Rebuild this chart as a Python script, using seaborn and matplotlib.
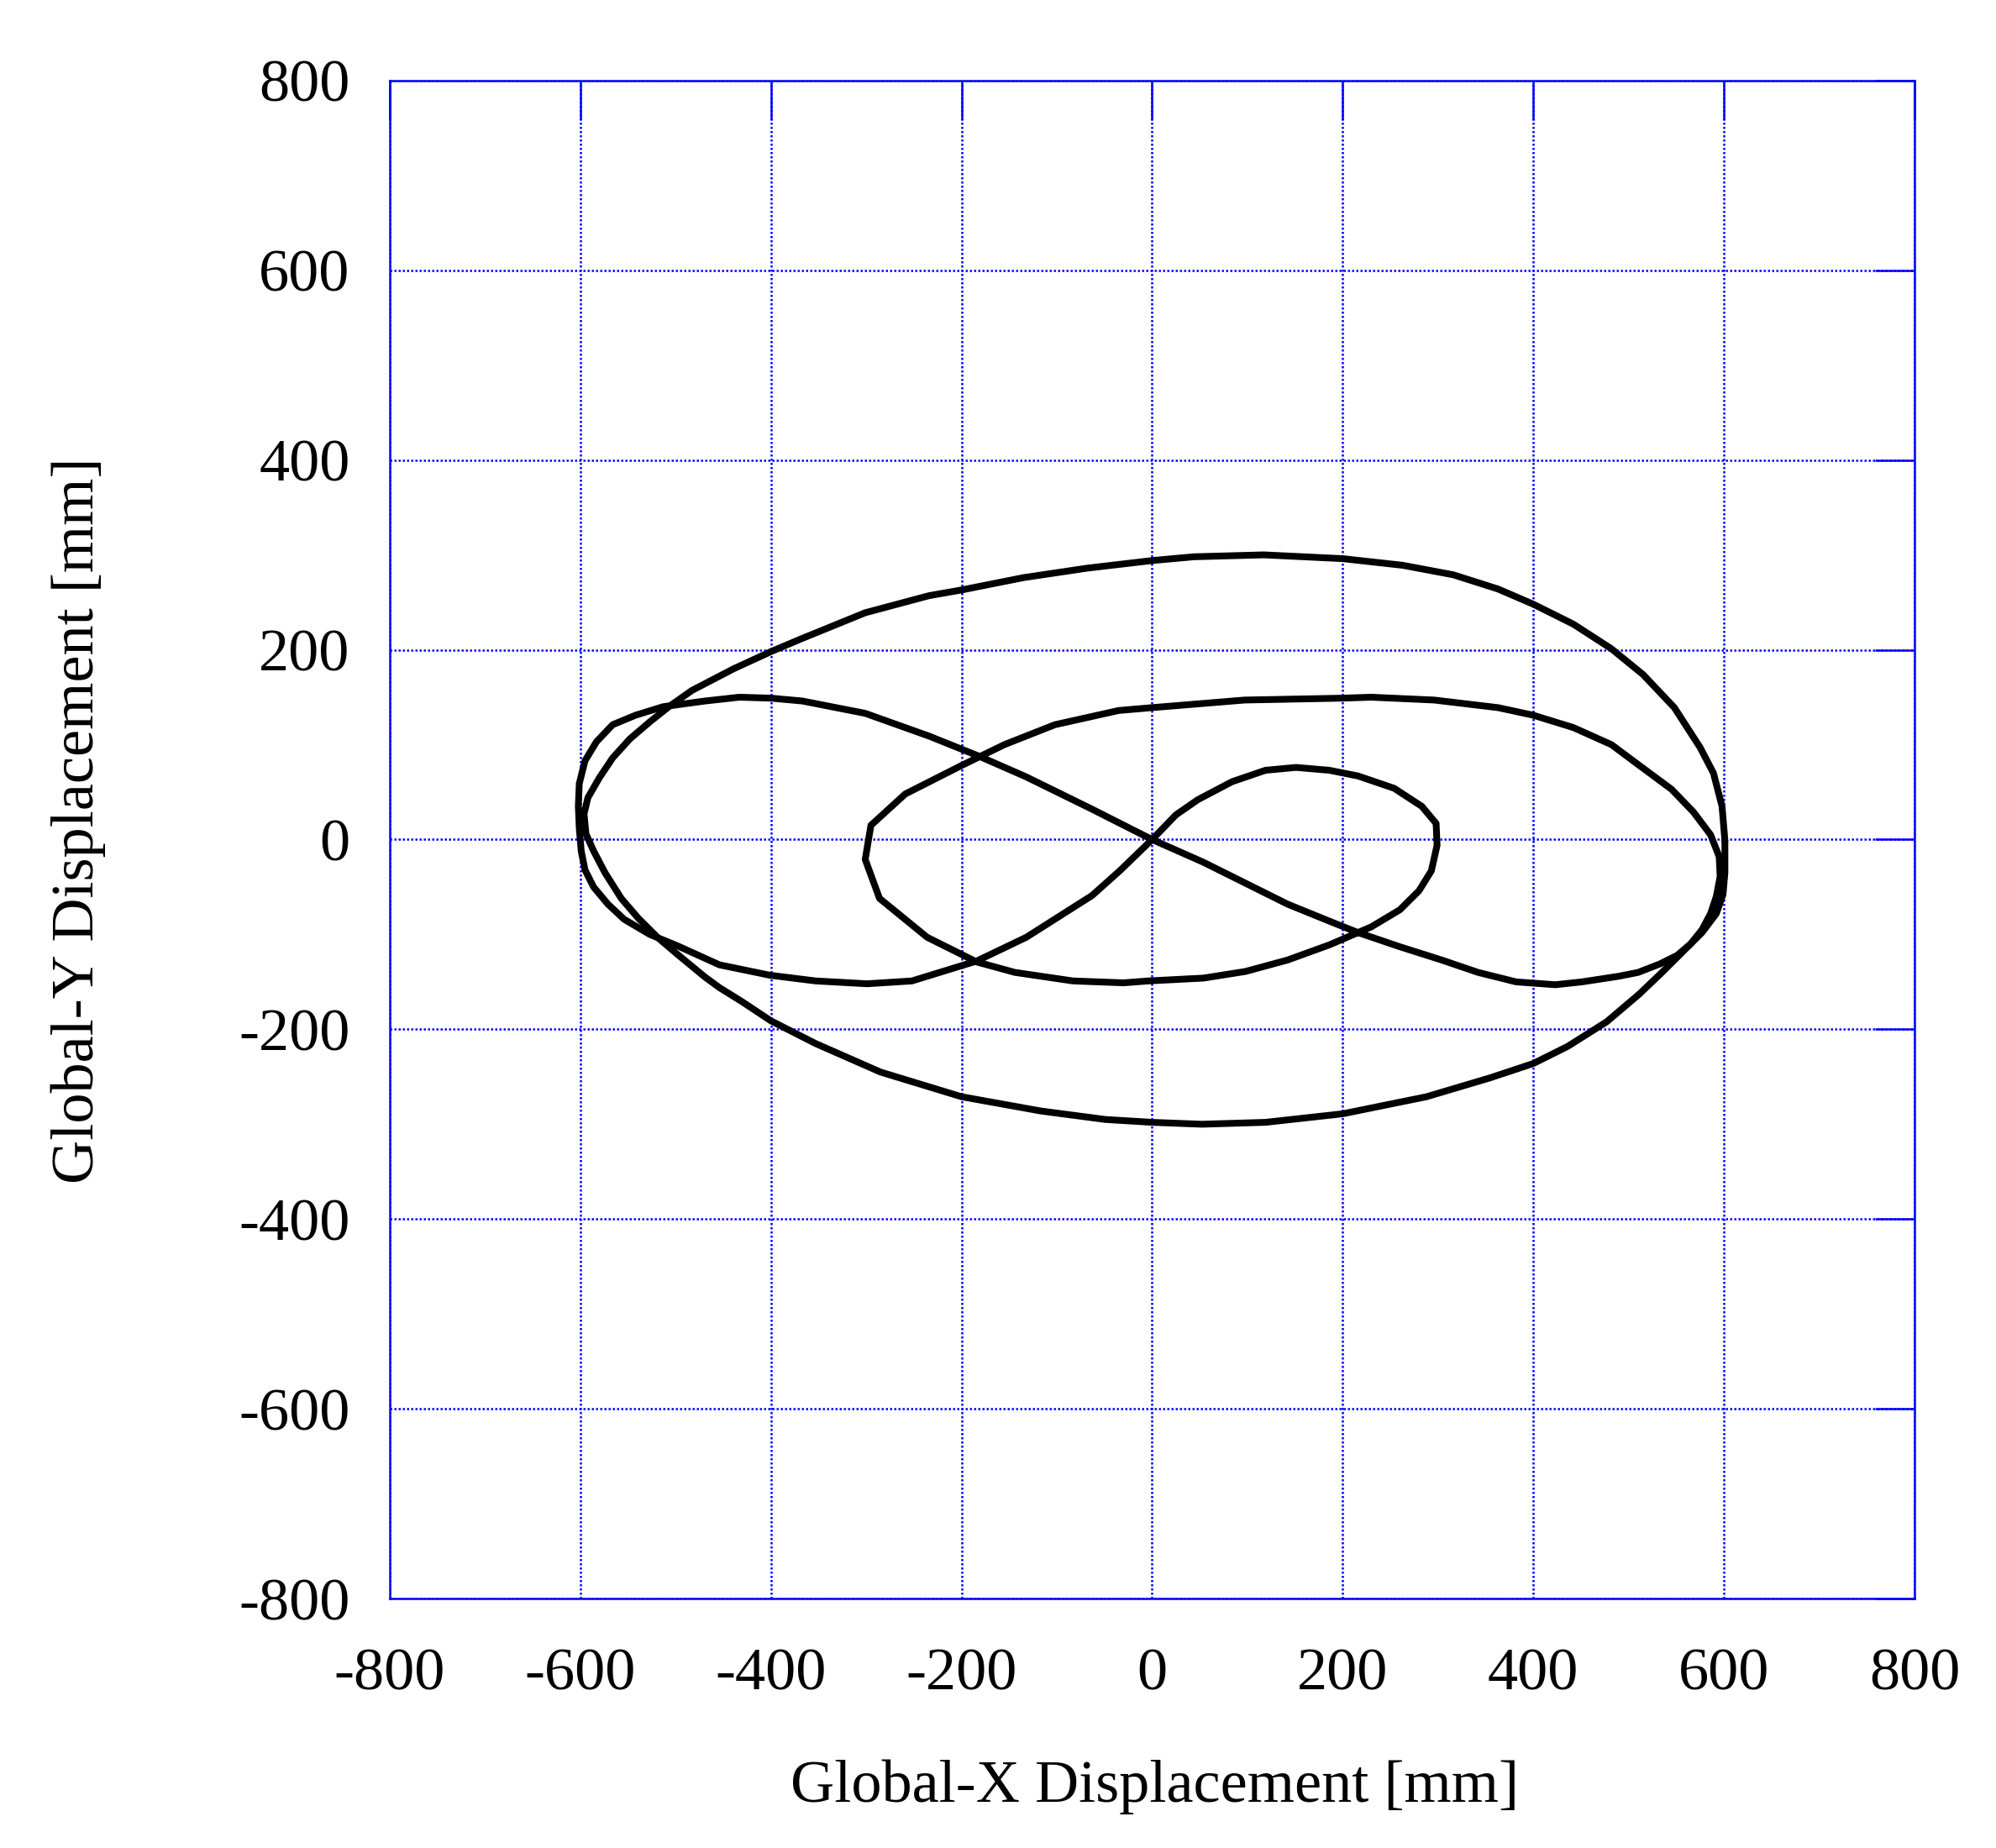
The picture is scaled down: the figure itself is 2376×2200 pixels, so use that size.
import numpy as np
import pandas as pd
import seaborn as sns
import matplotlib.pyplot as plt

# inner path: small loop -> spiral -> figure-eight, back to origin
inner_x = [0, 25, 48, 84, 119, 151, 186, 216, 254, 283, 298, 299, 293, 280,
           260, 230, 186, 142, 98, 54, -4, -30, -83, -144, -184, -236, -286,
           -301, -295, -259, -200, -155, -102, -35, 0, 97, 200, 230, 296, 363,
           400, 442, 482, 510, 545, 568, 586, 595, 596, 592, 586, 577, 565, 551,
           533, 510, 490, 451, 423, 382, 342, 304, 260, 216, 186, 142, 98, 54,
           0, -63, -132, -182, -234, -301, -367, -400, -433, -469, -513, -542,
           -566, -583, -595, -601, -602, -601, -599, -595, -586, -571, -554,
           -527, -498, -454, -401, -353, -299, -252, -184, -132, -63, -34, 0]
inner_y = [0, 26, 42, 61, 73, 76, 73, 67, 54, 35, 17, -6, -33, -54,
           -74, -92, -111, -127, -139, -146, -149, -151, -149, -140, -129, -103, -62,
           -21, 15, 48, 78, 100, 121, 136, 139, 147, 149, 150, 147, 139,
           131, 118, 100, 79, 53, 29, 5, -18, -39, -60, -78, -95, -110, -122,
           -131, -140, -144, -150, -153, -150, -140, -127, -113, -98, -86, -68, -46, -24,
           0, 32, 66, 88, 109, 133, 146, 149, 150, 146, 140, 131,
           121, 103, 83, 59, 35, 12, -12, -32, -50, -68, -84,
           -100, -112, -132, -143, -149, -152, -149, -128, -103, -59, -33, 0]

# outer ellipse
outer_x = [601, 598, 589, 575, 548, 515, 482, 442, 400, 363, 316, 263, 200, 117,
           44, 0, -68, -135, -200, -234, -301, -367, -400, -439, -483, -507, -527,
           -548, -566, -580, -592, -596, -594, -586, -574, -557, -539, -519, -498,
           -469, -454, -430, -400, -353, -285, -200, -117, -49, 0, 52, 119, 200,
           288, 355, 400, 436, 477, 511, 535, 557, 577, 592, 599, 601, 601]
outer_y = [-1, 35, 70, 97, 139, 174, 201, 227, 248, 264, 279, 289, 296, 300,
           298, 294, 286, 276, 263, 257, 239, 212, 198, 180, 157, 140, 124,
           106, 86, 65, 44, 27, 6, -12, -35, -62, -83, -103, -121,
           -145, -156, -171, -191, -215, -245, -271, -286, -295, -298, -300, -298, -289,
           -271, -251, -236, -218, -192, -163, -140, -118, -98, -78, -58, -35, -1]

ticks = [-800, -600, -400, -200, 0, 200, 400, 600, 800]

df = pd.concat([
    pd.DataFrame({"x": inner_x, "y": inner_y, "path": "inner"}),
    pd.DataFrame({"x": outer_x, "y": outer_y, "path": "outer"}),
], ignore_index=True)

sns.set_style("white")
plt.rcParams["font.family"] = ["Liberation Serif", "DejaVu Serif"]
plt.rcParams["axes.unicode_minus"] = False

blue = "#0000ff"
fig = plt.figure(figsize=(11.88, 11), dpi=200)
ax = fig.add_axes([0.1952, 0.1349, 0.764, 0.8216])

sns.lineplot(data=df, x="x", y="y", units="path", estimator=None, sort=False,
             color="black", lw=2.9, ax=ax, zorder=3)

ax.set_xlim(-800, 800)
ax.set_ylim(-800, 800)
ax.set_xticks(ticks)
ax.set_yticks(ticks)
ax.grid(True, color=blue, linestyle=(0, (1, 1)), linewidth=0.9)
for s in ax.spines.values():
    s.set_color(blue)
    s.set_linewidth(0.9)
ax.tick_params(direction="in", length=17, width=0.9, color=blue,
               top=True, right=True, labelsize=26, labelcolor="black")
ax.tick_params(axis="x", pad=21)
ax.tick_params(axis="y", pad=17)

ax.set_xlabel("Global-X Displacement [mm]", fontsize=26, color="black")
ax.set_ylabel("Global-Y Displacement [mm]", fontsize=26, color="black")
ax.xaxis.set_label_coords(0.502, -0.106)
ax.yaxis.set_label_coords(-0.186, 0.5125)

fig.savefig("out.png", dpi=200)
